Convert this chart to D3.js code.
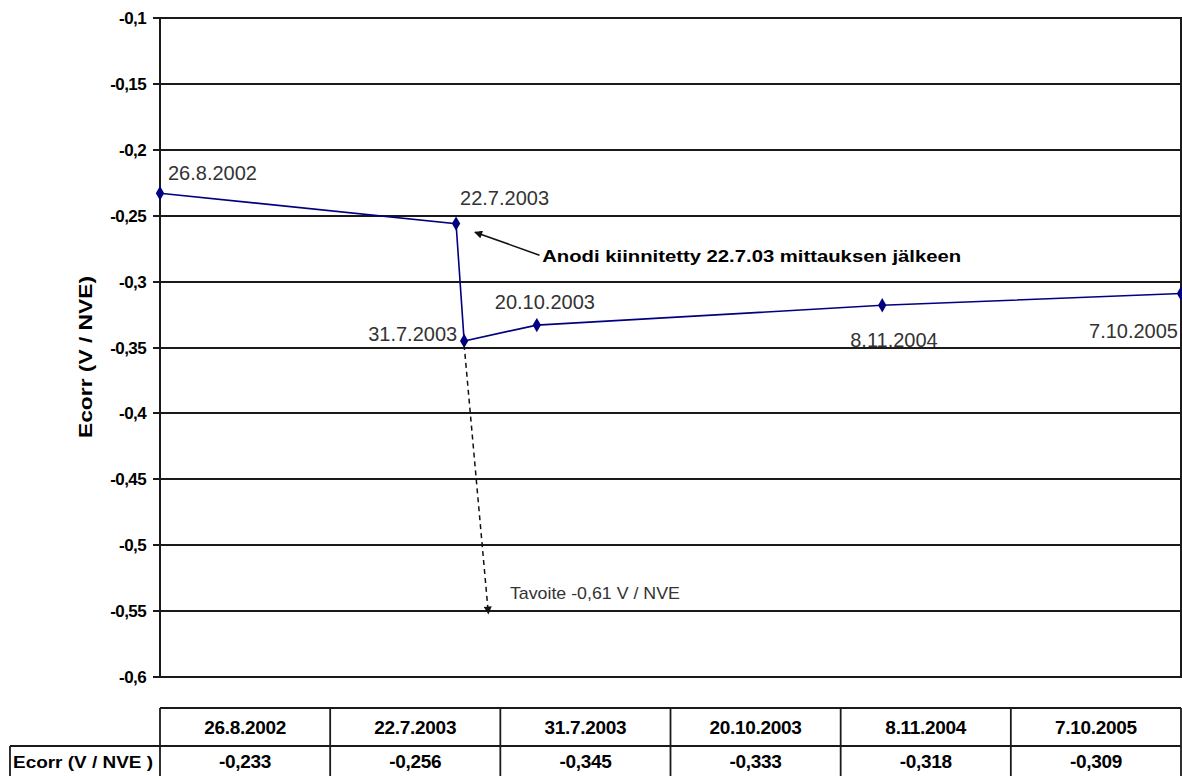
<!DOCTYPE html>
<html>
<head>
<meta charset="utf-8">
<script src="https://d3js.org/d3.v7.min.js"></script>
<style>
  body { margin: 0; background: #fff; }
  text { font-family: "Liberation Sans", Arial, sans-serif; }
</style>
</head>
<body>
<script>
// data
var dates = ["26.8.2002", "22.7.2003", "31.7.2003", "20.10.2003", "8.11.2004", "7.10.2005"];
var ecorr = [-0.233, -0.256, -0.345, -0.333, -0.318, -0.309];
var yTicks = [-0.1, -0.15, -0.2, -0.25, -0.3, -0.35, -0.4, -0.45, -0.5, -0.55, -0.6];
var tableValues = ["-0,233", "-0,256", "-0,345", "-0,333", "-0,318", "-0,309"];

// label offsets for point labels (dx, dy, anchor)
var labelPos = [
  [8, -13, "start"], [4, -19, "start"], [-7, 0, "end"],
  [-42, -16, "start"], [-32, 42, "start"], [-3, 45, "end"]
];

var parse = d3.timeParse("%d.%m.%Y");
var pts = dates.map(function(d, i) { return { date: parse(d), v: ecorr[i], label: d, i: i }; });

var W = 1182, H = 776;
var pL = 160, pR = 1181, pT = 18, pB = 677;

var svg = d3.select("body").append("svg").attr("width", W).attr("height", H);

var x = d3.scaleTime().domain(d3.extent(pts, function(d) { return d.date; })).range([pL, pR]);
var y = d3.scaleLinear().domain([-0.6, -0.1]).range([pB, pT]);

svg.append("defs").append("marker")
  .attr("id", "ah").attr("viewBox", "0 0 10 10").attr("refX", 9).attr("refY", 5)
  .attr("markerWidth", 10).attr("markerHeight", 8).attr("markerUnits", "userSpaceOnUse")
  .attr("orient", "auto")
  .append("path").attr("d", "M0,0L10,5L0,10z").attr("fill", "#111");

// plot frame
svg.append("rect").attr("x", pL).attr("y", pT).attr("width", pR - pL).attr("height", pB - pT)
  .attr("fill", "none").attr("stroke", "#1a1a1a").attr("stroke-width", 2);

// gridlines with ticks
svg.append("g").selectAll("line").data(yTicks).enter().append("line")
  .attr("x1", pL - 7).attr("x2", pR)
  .attr("y1", function(d) { return Math.round(y(d)); }).attr("y2", function(d) { return Math.round(y(d)); })
  .attr("stroke", "#1a1a1a").attr("stroke-width", 1.8);

// tick labels
svg.append("g").selectAll("text").data(yTicks).enter().append("text")
  .attr("x", 146).attr("y", function(d) { return y(d) + 6; })
  .attr("text-anchor", "end").attr("font-size", 17).attr("font-weight", "bold")
  .attr("letter-spacing", -0.6)
  .text(function(d) { return String(d).replace(".", ","); });

// axis title
svg.append("text")
  .attr("transform", "translate(92,357) rotate(-90)")
  .attr("text-anchor", "middle").attr("font-size", 19).attr("font-weight", "bold")
  .attr("textLength", 162).attr("lengthAdjust", "spacingAndGlyphs")
  .text("Ecorr (V / NVE)");

// line
var line = d3.line().x(function(d) { return x(d.date); }).y(function(d) { return y(d.v); });
svg.append("path").datum(pts).attr("d", line)
  .attr("fill", "none").attr("stroke", "#000080").attr("stroke-width", 1.6);

svg.selectAll(".pt").data(pts).enter().append("path")
  .attr("class", "pt")
  .attr("d", d3.symbol().type(d3.symbolDiamond).size(60))
  .attr("transform", function(d) { return "translate(" + x(d.date) + "," + y(d.v) + ")"; })
  .attr("fill", "#000080");

svg.selectAll(".lbl").data(pts).enter().append("text")
  .attr("class", "lbl")
  .attr("x", function(d) { return x(d.date) + labelPos[d.i][0]; })
  .attr("y", function(d) { return y(d.v) + labelPos[d.i][1]; })
  .attr("text-anchor", function(d) { return labelPos[d.i][2]; })
  .attr("font-size", 20).attr("fill", "#333")
  .text(function(d) { return d.label; });

// annotation: anode arrow
svg.append("line")
  .attr("x1", x(parse("23.10.2003"))).attr("y1", y(-0.280))
  .attr("x2", x(parse("12.8.2003"))).attr("y2", y(-0.2625))
  .attr("stroke", "#111").attr("stroke-width", 1.6).attr("marker-end", "url(#ah)");
svg.append("text")
  .attr("x", x(parse("26.10.2003"))).attr("y", y(-0.2855))
  .attr("font-size", 17).attr("font-weight", "bold")
  .attr("textLength", 419).attr("lengthAdjust", "spacingAndGlyphs")
  .text("Anodi kiinnitetty 22.7.03 mittauksen jälkeen");

// annotation: target arrow (dashed)
svg.append("line")
  .attr("x1", x(pts[2].date)).attr("y1", y(pts[2].v) + 4)
  .attr("x2", x(parse("27.8.2003"))).attr("y2", y(-0.552))
  .attr("stroke", "#111").attr("stroke-width", 1.5).attr("stroke-dasharray", "5,4")
  .attr("marker-end", "url(#ah)");
svg.append("text")
  .attr("x", x(parse("20.9.2003"))).attr("y", y(-0.5405))
  .attr("font-size", 17).attr("fill", "#333")
  .attr("textLength", 170).attr("lengthAdjust", "spacingAndGlyphs")
  .text("Tavoite -0,61 V / NVE");

// data table
var colW = (pR - pL) / dates.length;
var rowTop = 708, rowMid = 746, rowBot = 786;
var tb = svg.append("g");
tb.append("line").attr("x1", pL).attr("x2", pR).attr("y1", rowTop).attr("y2", rowTop);
tb.append("line").attr("x1", 10).attr("x2", pR).attr("y1", rowMid).attr("y2", rowMid);
tb.append("line").attr("x1", 10).attr("x2", 10).attr("y1", rowMid).attr("y2", rowBot);
tb.selectAll(".vl").data(d3.range(dates.length + 1)).enter().append("line")
  .attr("class", "vl")
  .attr("x1", function(i) { return pL + i * colW; }).attr("x2", function(i) { return pL + i * colW; })
  .attr("y1", rowTop).attr("y2", rowBot);
tb.selectAll("line").attr("stroke", "#1a1a1a").attr("stroke-width", 1.8);

tb.selectAll(".th").data(dates).enter().append("text")
  .attr("class", "th")
  .attr("x", function(d, i) { return pL + (i + 0.5) * colW; }).attr("y", 734)
  .attr("text-anchor", "middle").attr("font-size", 19).attr("font-weight", "bold")
  .attr("letter-spacing", -0.3)
  .text(function(d) { return d; });
tb.selectAll(".td").data(tableValues).enter().append("text")
  .attr("class", "td")
  .attr("x", function(d, i) { return pL + (i + 0.5) * colW; }).attr("y", 768)
  .attr("text-anchor", "middle").attr("font-size", 19).attr("font-weight", "bold")
  .attr("letter-spacing", -0.3)
  .text(function(d) { return d; });
tb.append("text").attr("x", 13).attr("y", 768)
  .attr("font-size", 17).attr("font-weight", "bold")
  .attr("textLength", 140).attr("lengthAdjust", "spacingAndGlyphs")
  .text("Ecorr (V / NVE )");
</script>
</body>
</html>
